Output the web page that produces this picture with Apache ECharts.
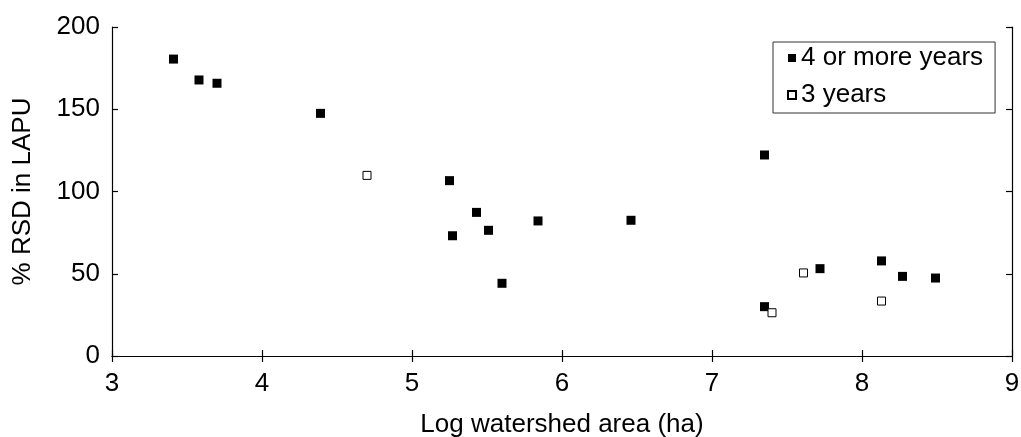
<!DOCTYPE html>
<html>
<head>
<meta charset="utf-8">
<script src="https://cdn.jsdelivr.net/npm/echarts@6/dist/echarts.min.js"></script>
<style>html,body{margin:0;padding:0;background:#fff}#c{width:1021px;height:437px}</style>
</head>
<body>
<div id="c"></div>
<script>
var seriesNames = ['4 or more years', '3 years'];
var xTicks = [3, 4, 5, 6, 7, 8, 9];
var yTicks = [0, 50, 100, 150, 200];
var fourPlusX = [3.41, 3.58, 3.70, 4.39, 5.25, 5.43, 5.27, 5.51, 5.84, 5.60, 6.46, 7.35, 7.35, 7.72, 8.13, 8.27, 8.49];
var fourPlusY = [180.5, 167.8, 165.8, 147.5, 106.6, 87.3, 73.1, 76.4, 82.1, 44.2, 82.5, 122.2, 30.0, 53.1, 57.8, 48.4, 47.4];
var threeX = [4.70, 7.40, 7.61, 8.13];
var threeY = [109.8, 26.3, 50.5, 33.4];

function pairs(xs, ys) { return xs.map(function (x, i) { return [x, ys[i]]; }); }

var font = 'Liberation Sans, Arial, sans-serif';
var fs = 26;
var chart = echarts.init(document.getElementById('c'), null, { renderer: 'canvas' });
var axisCommon = {
  type: 'value',
  axisLine: { show: true, lineStyle: { color: '#000', width: 1.2 } },
  axisTick: { show: true, inside: true, length: 6, lineStyle: { color: '#000', width: 1.2 } },
  splitLine: { show: false }
};
chart.setOption({
  animation: false,
  backgroundColor: '#fff',
  grid: { left: 112, right: 9, top: 27, bottom: 81, containLabel: false, outerBoundsMode: 'none' },
  legend: {
    orient: 'vertical',
    left: 773, top: 42,
    padding: [2, 12, 4, 14],
    itemWidth: 8, itemHeight: 8, itemGap: 9,
    borderColor: '#333', borderWidth: 1,
    backgroundColor: '#fff',
    textStyle: { fontFamily: font, fontSize: fs, color: '#000', lineHeight: 28 },
    data: [{ name: seriesNames[0], icon: 'rect' }, { name: seriesNames[1], icon: 'rect' }]
  },
  xAxis: [
    Object.assign({}, axisCommon, {
      min: xTicks[0], max: xTicks[xTicks.length - 1], interval: 1, position: 'bottom',
      name: 'Log watershed area (ha)', nameLocation: 'middle', nameGap: 56,
      nameTextStyle: { fontFamily: font, fontSize: fs, color: '#000' },
      axisLabel: { fontFamily: font, fontSize: fs, color: '#000', margin: 15 }
    }),
    Object.assign({}, axisCommon, {
      min: xTicks[0], max: xTicks[xTicks.length - 1], interval: 1, position: 'top',
      axisLabel: { show: false }
    })
  ],
  yAxis: [
    Object.assign({}, axisCommon, {
      min: yTicks[0], max: yTicks[yTicks.length - 1], interval: 50, position: 'left',
      name: '% RSD in LAPU', nameLocation: 'middle', nameGap: 76,
      nameTextStyle: { fontFamily: font, fontSize: fs, color: '#000' },
      axisLabel: { fontFamily: font, fontSize: fs, color: '#000', margin: 12 }
    }),
    Object.assign({}, axisCommon, {
      min: yTicks[0], max: yTicks[yTicks.length - 1], interval: 50, position: 'right',
      axisLabel: { show: false }
    })
  ],
  series: [
    {
      name: seriesNames[0], type: 'scatter', symbol: 'rect', symbolSize: 9,
      itemStyle: { color: '#000', borderColor: '#000', borderWidth: 0, opacity: 1 },
      data: pairs(fourPlusX, fourPlusY)
    },
    {
      name: seriesNames[1], type: 'scatter', symbol: 'rect', symbolSize: 8,
      itemStyle: { color: '#fff', borderColor: '#000', borderWidth: 1, opacity: 1 },
      data: pairs(threeX, threeY)
    }
  ]
});
</script>
</body>
</html>
